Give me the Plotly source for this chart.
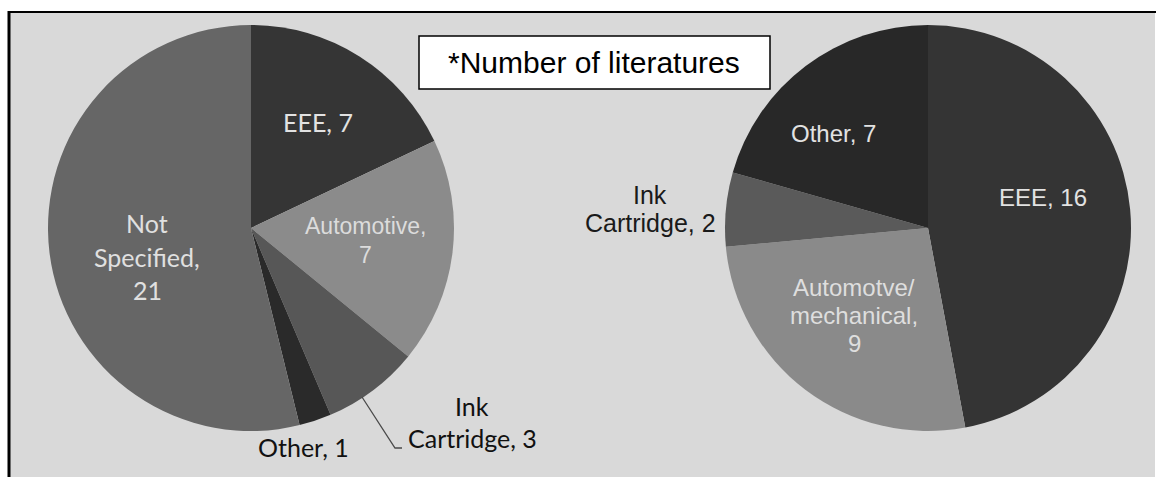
import plotly.graph_objects as go

# Application fields of the studies (number of literatures)
left_labels = ["EEE", "Automotive", "Ink Cartridge", "Other", "Not Specified"]
left_values = [7, 7, 3, 1, 21]
left_colors = ["#353535", "#8b8b8b", "#575757", "#2a2a2a", "#666666"]

right_labels = ["EEE", "Automotve/mechanical", "Ink Cartridge", "Other"]
right_values = [16, 9, 2, 7]
right_colors = ["#343434", "#8a8a8a", "#5a5a5a", "#282828"]

W, H = 1157, 477


def px(x):
    return x / W


def py(y):
    return 1 - y / H


def pie_domain(cx, cy, r):
    return dict(x=[px(cx - r), px(cx + r)], y=[py(cy + r), py(cy - r)])


fig = go.Figure()
fig.add_trace(go.Pie(
    labels=left_labels, values=left_values, sort=False, direction="clockwise",
    rotation=0, marker=dict(colors=left_colors, line=dict(width=0)),
    textinfo="none", hoverinfo="label+value", showlegend=False,
    domain=pie_domain(251, 228, 203),
))
fig.add_trace(go.Pie(
    labels=right_labels, values=right_values, sort=False, direction="clockwise",
    rotation=0, marker=dict(colors=right_colors, line=dict(width=0)),
    textinfo="none", hoverinfo="label+value", showlegend=False,
    domain=pie_domain(928, 228, 203),
))

LATO = "Lato, 'Noto Sans', sans-serif"
ARIAL = "'Liberation Sans', Arial, sans-serif"

annotations = []


def label(lines, x, y0, step, size, color, family):
    for i, line in enumerate(lines):
        annotations.append(dict(
            x=px(x), y=py(y0 + i * step), xref="paper", yref="paper",
            text=line, showarrow=False, xanchor="center", yanchor="middle",
            font=dict(size=size, color=color, family=family),
        ))


lv = dict(zip(left_labels, left_values))
rv = dict(zip(right_labels, right_values))

# Left pie labels
label([f"EEE, {lv['EEE']}"], 318, 122, 0, 25, "#e2e2e2", LATO)
label(["Automotive,", f"{lv['Automotive']}"], 365, 226, 29, 23, "#dcdcdc", ARIAL)
label(["Not", "Specified,", f"{lv['Not Specified']}"], 147, 223, 33.5, 25, "#e0e0e0", LATO)
label([f"Other, {lv['Other']}"], 303, 447, 0, 25, "#111111", LATO)
label(["Ink", f"Cartridge, {lv['Ink Cartridge']}"], 472, 406, 32, 25, "#111111", LATO)

# Right pie labels
label([f"Other, {rv['Other']}"], 833, 133, 0, 24, "#e2e2e2", ARIAL)
label([f"EEE, {rv['EEE']}"], 1043, 197, 0, 24, "#e2e2e2", ARIAL)
label(["Automotve/", "mechanical,", f"{rv['Automotve/mechanical']}"], 854, 287, 28, 24, "#dedede", ARIAL)
label(["Ink", f"Cartridge, {rv['Ink Cartridge']}"], 650, 195, 28, 25, "#1a1a1a", ARIAL)

# Note box
annotations.append(dict(
    x=px(594.5), y=py(63), xref="paper", yref="paper",
    text="*Number of literatures", showarrow=False,
    xanchor="center", yanchor="middle",
    font=dict(size=30, color="#000000", family=ARIAL),
))

shapes = [
    # grey panel
    dict(type="rect", xref="paper", yref="paper", layer="below",
         x0=px(9), x1=px(1155), y0=py(477), y1=py(12),
         fillcolor="#d9d9d9", line=dict(width=0)),
    # frame: top and left edges
    dict(type="line", xref="paper", yref="paper", layer="above",
         x0=px(8), x1=px(1156), y0=py(12), y1=py(12),
         line=dict(color="#000000", width=2)),
    dict(type="line", xref="paper", yref="paper", layer="above",
         x0=px(9), x1=px(9), y0=py(11), y1=py(477),
         line=dict(color="#000000", width=3)),
    # leader line for the small "Ink Cartridge" slice
    dict(type="path", xref="paper", yref="paper", layer="above",
         path=f"M {px(362)} {py(397)} L {px(395)} {py(448)} L {px(402)} {py(448)}",
         line=dict(color="#4a4a4a", width=1.3)),
    # note box
    dict(type="rect", xref="paper", yref="paper", layer="above",
         x0=px(419), x1=px(770), y0=py(89), y1=py(36),
         fillcolor="#ffffff", line=dict(color="#000000", width=1.5)),
]

fig.update_layout(
    width=W, height=H,
    margin=dict(l=0, r=0, t=0, b=0),
    paper_bgcolor="#ffffff",
    plot_bgcolor="#ffffff",
    shapes=shapes,
    annotations=annotations,
)

fig.write_html("out.html")
